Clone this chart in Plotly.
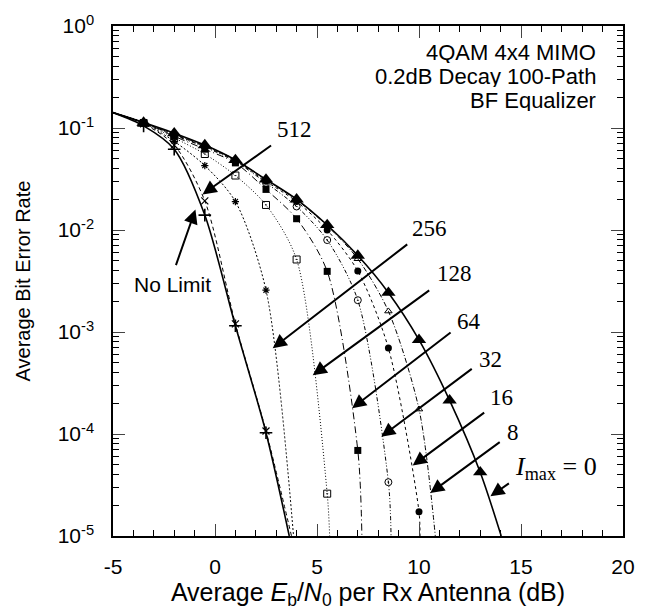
import plotly.graph_objects as go

# ---------------- data (Eb/N0 in dB, BER) ----------------
snr_nolimit = [-5, -3.5, -2, -0.5, 1, 2.5, 3.64]
ber_nolimit = [0.1415, 0.105, 0.062, 0.0140, 0.00115, 1.03e-4, 1e-5]

snr_512 = [-5, -3.5, -2, -0.5, 1, 2.5, 3.75]
ber_512 = [0.1415, 0.110, 0.068, 0.0193, 0.00120, 1.07e-4, 1e-5]

snr_256 = [-5, -3.5, -2, -0.5, 1, 2.5, 3.85]
ber_256 = [0.1415, 0.112, 0.074, 0.0428, 0.019, 0.00257, 1e-5]

snr_128 = [-5, -3.5, -2, -0.5, 1, 2.5, 4, 5.5, 5.62]
ber_128 = [0.1415, 0.112, 0.080, 0.0556, 0.0342, 0.0176, 0.00514, 2.6e-5, 1e-5]

snr_64 = [-5, -3.5, -2, -0.5, 1, 2.5, 4, 5.5, 7, 7.2]
ber_64 = [0.1415, 0.113, 0.083, 0.062, 0.0455, 0.025, 0.0129, 0.00393, 6.9e-5, 1e-5]

snr_32 = [-5, -3.5, -2, -0.5, 1, 2.5, 4, 5.5, 7, 8.5, 8.63]
ber_32 = [0.1415, 0.113, 0.085, 0.065, 0.047, 0.029, 0.017, 0.00797, 0.00205, 3.37e-5, 1e-5]

snr_16 = [-5, -3.5, -2, -0.5, 1, 2.5, 4, 5.5, 7, 8.5, 10, 10.05]
ber_16 = [0.1415, 0.113, 0.086, 0.066, 0.048, 0.030, 0.019, 0.0100, 0.00396, 6.95e-4, 1.73e-5, 1e-5]

snr_8 = [-5, -3.5, -2, -0.5, 1, 2.5, 4, 5.5, 7, 8.5, 10, 10.8]
ber_8 = [0.1415, 0.113, 0.087, 0.067, 0.049, 0.031, 0.0197, 0.0110, 0.00521, 0.0016, 1.75e-4, 1e-5]

snr_0 = [-5, -3.5, -2, -0.5, 1, 2.5, 4, 5.5, 7, 8.5, 10, 11.5, 13, 14.03]
ber_0 = [0.1415, 0.113, 0.089, 0.068, 0.0486, 0.0313, 0.020, 0.0112, 0.00562, 0.00243, 8.38e-4, 2.14e-4, 4.22e-5, 1e-5]

x_tickvals = [-5, 0, 5, 10, 15, 20]
x_ticktext = ["-5", "0", "5", "10", "15", "20"]
y_tickvals = [1e-5, 1e-4, 1e-3, 1e-2, 1e-1, 1]
y_ticktext = ["10<sup>-5</sup>", "10<sup>-4</sup>", "10<sup>-3</sup>", "10<sup>-2</sup>",
              "10<sup>-1</sup>", "10<sup>0</sup>"]

# ---------------- styles ----------------
series = [
    (snr_nolimit, ber_nolimit, "solid", 1.6, "cross-thin", 9, 1.6),
    (snr_512, ber_512, "4px,3px", 1.0, "x-thin", 7, 1.2),
    (snr_256, ber_256, "2px,2px", 1.0, "asterisk", 6, 1.2),
    (snr_128, ber_128, "1px,2px", 1.0, "square-open-dot", 7, 1.0),
    (snr_64, ber_64, "7px,3px,1px,3px", 1.0, "square", 7, 0),
    (snr_32, ber_32, "4px,2px,1px,2px,1px,2px", 1.0, "circle-open-dot", 7, 1.0),
    (snr_16, ber_16, "3px,3px", 1.0, "circle", 7, 0),
    (snr_8, ber_8, "5px,2px,1px,2px", 1.0, "triangle-up-open", 6.5, 1.0),
    (snr_0, ber_0, "solid", 1.6, "triangle-up", 12.5, 0),
]

fig = go.Figure()
for sx, sy, dash, lw, sym, ms, mlw in series:
    fig.add_trace(go.Scatter(x=sx, y=sy, mode="lines",
                             line=dict(color="black", width=lw, dash=dash,
                                       shape="spline", smoothing=0.8),
                             hoverinfo="skip", showlegend=False, cliponaxis=True))
    fig.add_trace(go.Scatter(x=sx[1:-1], y=sy[1:-1], mode="markers",
                             marker=dict(symbol=sym, size=ms, color="black",
                                         line=dict(color="black", width=mlw)),
                             showlegend=False, cliponaxis=True))

serif = "Liberation Serif, Times New Roman, serif"
sans = "Liberation Sans, Arial, sans-serif"

# arrows: (tip x dB, tip log10 BER, tail offset px)
arrows = [
    (-0.61, -1.651, 70, -50),
    (-0.96, -1.80, -20, 57),
    (2.83, -3.159, 136, -105),
    (4.79, -3.424, 118, -86),
    (6.72, -3.748, 100, -77),
    (8.15, -4.027, 92, -69),
    (9.69, -4.309, 73, -54),
    (10.55, -4.579, 71, -52),
    (13.50, -4.611, 20, -14),
]
for tx, ty, axo, ayo in arrows:
    fig.add_annotation(x=tx, y=ty, xref="x", yref="y", ax=axo, ay=ayo,
                       text="", showarrow=True, arrowhead=2, arrowsize=1.4,
                       arrowwidth=2, arrowcolor="black", standoff=0)

labels = [
    (3.90, -1.011, "512", 23),
    (10.50, -1.987, "256", 23),
    (11.72, -2.431, "128", 23),
    (12.45, -2.895, "64", 23),
    (13.50, -3.268, "32", 23),
    (14.02, -3.641, "16", 23),
    (14.60, -3.981, "8", 23),
    (16.72, -4.329, "<i>I</i><sub>max</sub> = 0", 26),
]
for lx, ly, t, fs in labels:
    fig.add_annotation(x=lx, y=ly, xref="x", yref="y", text=t, showarrow=False,
                       font=dict(family=serif, size=fs, color="black"))

fig.add_annotation(x=-2.067, y=-2.536, xref="x", yref="y", text="No Limit",
                   showarrow=False, font=dict(family=sans, size=21, color="black"))

info_lines = ["4QAM 4x4 MIMO", "0.2dB Decay 100-Path", "BF Equalizer"]
info_y = [0.9494, 0.9018, 0.8541]
for t, py in zip(info_lines, info_y):
    fig.add_annotation(x=0.9510, y=py, xref="paper", yref="paper", xanchor="right",
                       yanchor="middle", showarrow=False, text=t, height=22,
                       valign="middle",
                       font=dict(family=sans, size=22, color="black"))

fig.update_layout(
    width=647, height=612,
    margin=dict(l=113, r=20, t=22, b=76),
    paper_bgcolor="white", plot_bgcolor="white",
    font=dict(family=sans, size=21, color="black"),
    xaxis=dict(range=[-5, 20], tickvals=x_tickvals, ticktext=x_ticktext,
               ticks="inside", ticklen=12,
               tickwidth=1, mirror="allticks", showline=True, linewidth=1.5,
               linecolor="black", showgrid=False, zeroline=False,
               ticklabelstandoff=11,
               minor=dict(ticks="inside", ticklen=6, dtick=1, tickcolor="black",
                          showgrid=False),
               title=dict(text="Average <i>E</i><sub>b</sub>/<i>N</i><sub>0</sub> per Rx Antenna (dB)",
                          font=dict(size=25), standoff=4)),
    yaxis=dict(type="log", range=[-5, 0], tickvals=y_tickvals, ticktext=y_ticktext,
               ticks="inside", ticklen=12, tickwidth=1, mirror="allticks",
               showline=True, linewidth=1.5, linecolor="black", showgrid=False,
               zeroline=False, ticklabelstandoff=13,
               minor=dict(ticks="inside", ticklen=6, tickcolor="black", showgrid=False,
                          tickvals=[m * 10 ** e for e in range(-5, 0) for m in range(2, 10)]),
               title=dict(text="Average Bit Error Rate", font=dict(size=20), standoff=22)),
)

fig.write_html("out.html")
